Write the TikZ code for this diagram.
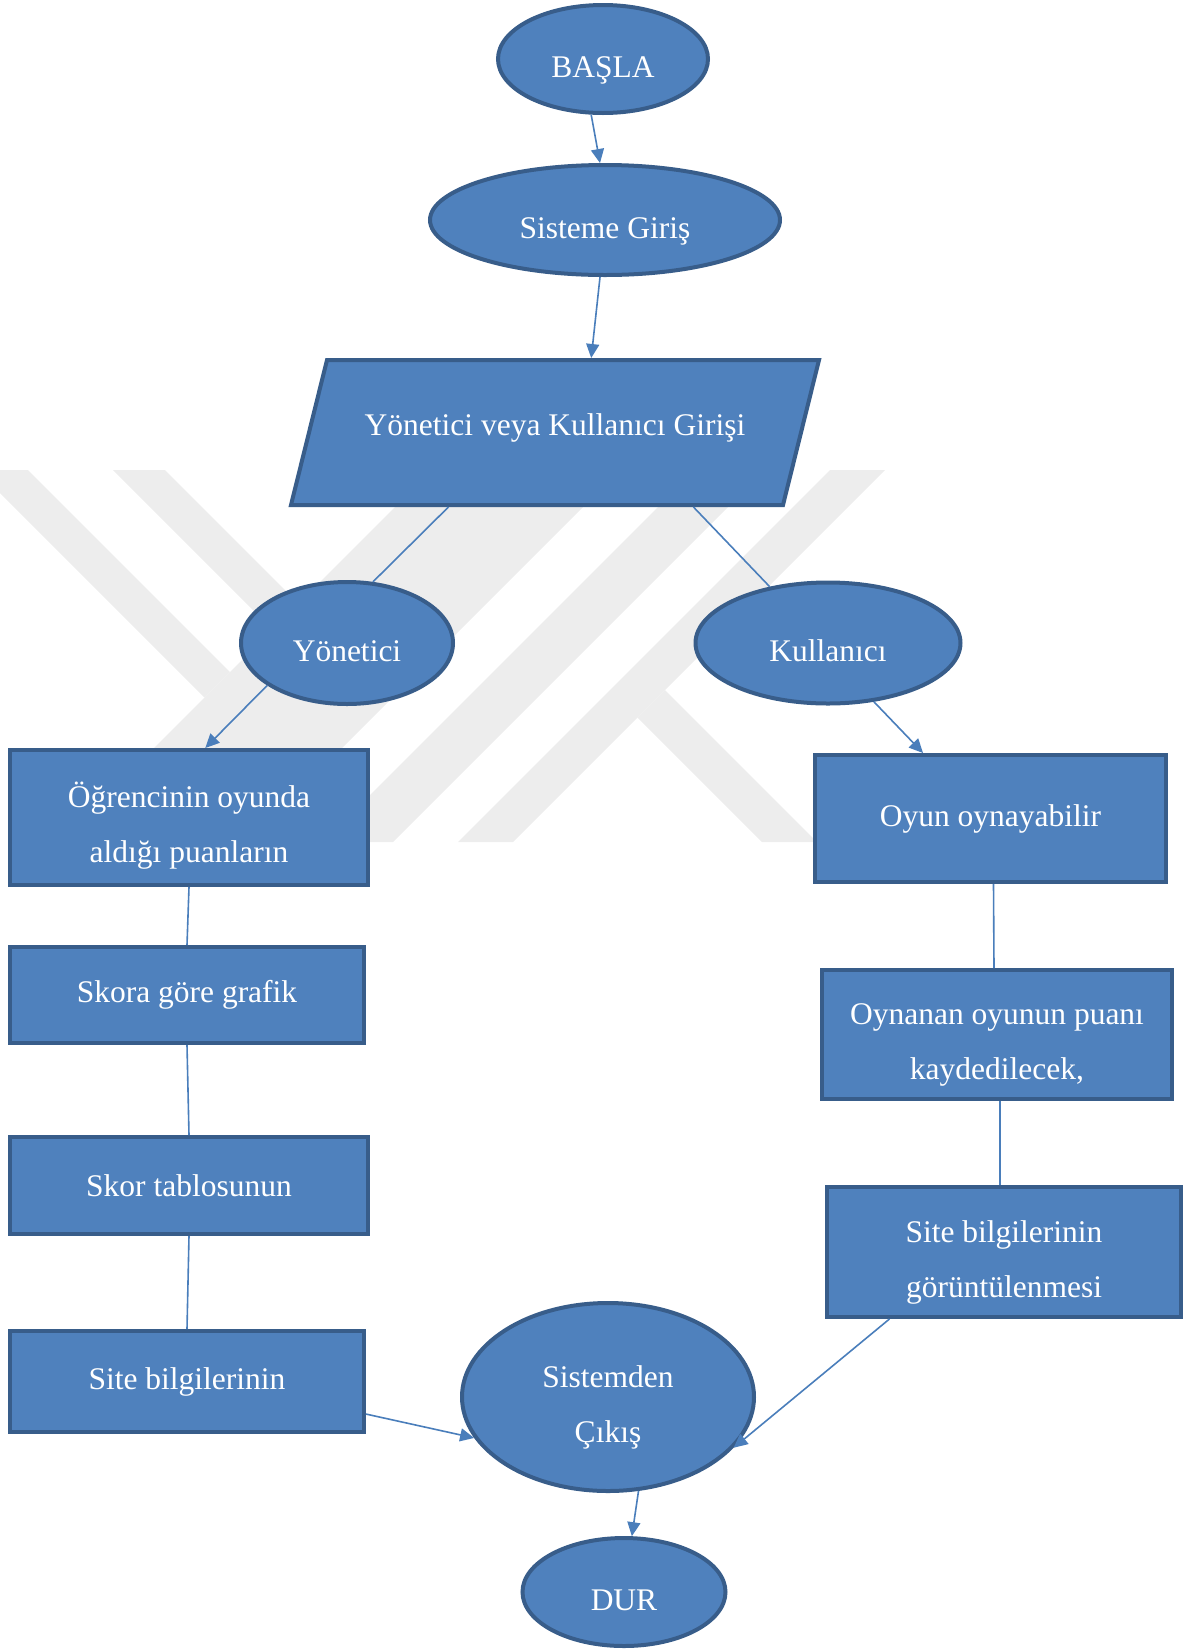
\documentclass[tikz,border=0pt]{standalone}
\usepackage{fontspec}
\setmainfont{Liberation Serif}
\usetikzlibrary{shapes.geometric, arrows.meta, calc}
\definecolor{boxblue}{HTML}{4F81BD}
\definecolor{edgeblue}{HTML}{385D8A}
\definecolor{linkblue}{HTML}{4A7EBB}
\definecolor{wmgray}{HTML}{EDEDED}
\newcommand{\toppad}{\rule{0pt}{42pt}}

\begin{document}
\begin{tikzpicture}[x=1pt, y=-1pt,
  every node/.style={font=\fontsize{31.5}{55}\selectfont, text=white},
  shapebase/.style={fill=boxblue, draw=edgeblue, line width=4pt, inner sep=0pt},
  blob/.style={shapebase, ellipse, text height=37pt, text depth=0pt},
  box/.style={shapebase, rectangle, align=center},
  link/.style={draw=linkblue, line width=1.6pt},
  arr/.style={link, -{Triangle[length=14pt, width=13pt]}}]
  \useasboundingbox (0,0) rectangle (1195,1650);

  % watermark in the background
  \fill[wmgray] (0,470) -- (28,470) -- (230,672) -- (204.5,697.5) -- (0,493) -- cycle;
  \fill[wmgray] (113,470) -- (165,470) -- (298.5,603.5) -- (272.5,629.5) -- cycle;
  \fill[wmgray] (432,470) -- (620,470) -- (248,842) -- (60,842) -- cycle;
  \fill[wmgray] (695,470) -- (765,470) -- (393,842) -- (323,842) -- cycle;
  \fill[wmgray] (830,470) -- (885,470) -- (513,842) -- (458,842) -- cycle;
  \fill[wmgray] (637.5,717.5) -- (665,690) -- (817,842) -- (762,842) -- cycle;

  % top of the chart
  \node[blob, minimum width=210pt, minimum height=108pt] (basla) at (603,59) {BAŞLA};
  \node[blob, minimum width=350pt, minimum height=110pt] (giris) at (605,220) {Sisteme Giriş};
  \coordinate (parTL) at (327,360);
  \coordinate (parTR) at (819,360);
  \coordinate (parBR) at (783,505);
  \coordinate (parBL) at (291,505);
  \path[shapebase] (parBL) -- (parBR) -- (parTR) -- (parTL) -- cycle;
  \node (par) at (555,428) {Yönetici veya Kullanıcı Girişi};
  \node[blob, minimum width=212pt, minimum height=122pt] (yon) at (347,643) {Yönetici};
  \node[blob, minimum width=265pt, minimum height=121pt] (kul) at (828,643) {Kullanıcı};

  % left column
  \node[box, minimum width=358pt, minimum height=135pt] (ogr) at (189,817.5) {\toppad Öğrencinin oyunda\\aldığı puanların};
  \node[box, minimum width=354pt, minimum height=96pt] (skora) at (187,995) {Skora göre grafik};
  \node[box, minimum width=358pt, minimum height=97pt] (skor) at (189,1185.5) {Skor tablosunun};
  \node[box, minimum width=354pt, minimum height=101pt] (siteL) at (187,1381.5) {Site bilgilerinin};

  % right column
  \node[box, minimum width=351pt, minimum height=127pt] (oyun) at (990.5,818.5) {Oyun oynayabilir};
  \node[box, minimum width=350pt, minimum height=129pt] (oyn) at (997,1034.5) {\toppad Oynanan oyunun puanı\\kaydedilecek,};
  \node[box, minimum width=354pt, minimum height=130pt] (siteR) at (1004,1252) {\toppad Site bilgilerinin\\görüntülenmesi};

  % end
  \node[shapebase, ellipse, align=center, minimum width=292pt, minimum height=188pt] (cikis) at (608,1397) {\toppad Sistemden\\Çıkış};
  \node[blob, minimum width=203pt, minimum height=108pt] (dur) at (624,1592) {DUR};

  \draw[arr] (basla.258) -- (giris.95);
  \draw[arr] (giris.265) -- ($(parTL)!0.537!(parTR)+(0,-2)$);
  \draw[link] ($(parBL)!0.32!(parBR)+(0,2)$) -- (yon.67);
  \draw[link] ($(parBL)!0.818!(parBR)+(0,2)$) -- (kul.136);
  \draw[arr] (yon.208) -- ($(ogr.north west)!0.545!(ogr.north east)$);
  \draw[arr] (kul.308) -- ($(oyun.north west)!0.31!(oyun.north east)$);
  \draw[link] (ogr.south) -- (skora.north);
  \draw[link] (skora.south) -- (skor.north);
  \draw[link] (skor.south) -- (siteL.north);
  \draw[link] ($(oyun.south)+(3,0)$) -- ($(oyn.north)+(-3,0)$);
  \draw[link] ($(oyn.south)+(3,0)$) -- ($(siteR.north)+(-4,0)$);
  \draw[arr] ($(siteL.north east)!0.81!(siteL.south east)$) -- (cikis.197);
  \draw[arr] ($(siteR.south west)!0.18!(siteR.south east)$) -- (cikis.338);
  \draw[arr] (cikis.288) -- (dur.82);
\end{tikzpicture}
\end{document}
